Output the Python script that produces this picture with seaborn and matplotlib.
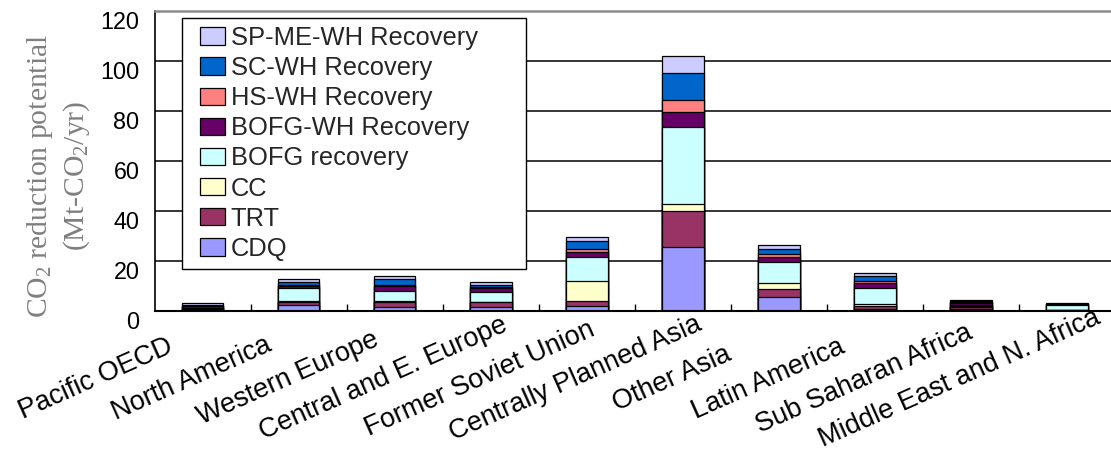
import numpy as np
import matplotlib
matplotlib.use("Agg")
import matplotlib.pyplot as plt
import matplotlib.transforms as mtransforms
from matplotlib.patches import Rectangle
from matplotlib.container import BarContainer
from matplotlib.legend_handler import HandlerPatch, update_from_first_child
import seaborn as sns

# regions on the x axis
regions = ["Pacific OECD", "North America", "Western Europe", "Central and E. Europe",
           "Former Soviet Union", "Centrally Planned Asia", "Other Asia",
           "Latin America", "Sub Saharan Africa", "Middle East and N. Africa"]

# technologies, bottom of the stack first
techs = ["CDQ", "TRT", "CC", "BOFG recovery", "BOFG-WH Recovery",
         "HS-WH Recovery", "SC-WH Recovery", "SP-ME-WH Recovery"]

# Mt-CO2/yr
cdq     = [0.5, 2.3, 1.5, 1.5, 2.0, 25.4, 5.3, 0.8, 0.6, 0.2]
trt     = [0.3, 1.3, 2.0, 1.8, 1.9, 14.6, 3.5, 1.0, 1.0, 0.1]
cc      = [0.1, 0.3, 0.3, 0.3, 7.9, 2.7, 2.3, 0.7, 0.2, 0.1]
bofg    = [0.3, 5.2, 4.2, 3.9, 9.8, 30.9, 8.5, 6.5, 0.4, 1.8]
bofg_wh = [0.5, 0.9, 1.9, 1.6, 2.0, 6.0, 2.0, 2.1, 0.8, 0.3]
hs_wh   = [0.2, 0.4, 0.3, 0.3, 1.1, 4.7, 1.2, 0.9, 0.3, 0.1]
sc_wh   = [0.5, 1.2, 2.5, 1.0, 3.2, 10.7, 1.8, 1.7, 0.6, 0.2]
spme_wh = [0.6, 1.1, 1.0, 0.9, 1.7, 6.9, 1.7, 1.2, 0.5, 0.3]

colors = ["#9999FF", "#993366", "#FFFFCC", "#CCFFFF", "#660066",
          "#FF8080", "#0066CC", "#CCCCFF"]

sns.set_theme(style="white")
plt.rcParams["font.family"] = ["Liberation Sans", "DejaVu Sans"]
plt.rcParams["mathtext.fontset"] = "custom"
plt.rcParams["mathtext.rm"] = "Liberation Serif"

fig = plt.figure(figsize=(11.11, 4.55), dpi=100)
ax = fig.add_axes([154.8 / 1111, 1 - 310.7 / 455, 960.2 / 1111, 300 / 455])

layers = np.array([cdq, trt, cc, bofg, bofg_wh, hs_wh, sc_wh, spme_wh])
cum = np.cumsum(layers, axis=0)

# draw cumulative bars from the top segment down so each one covers the rest
for i in reversed(range(len(techs))):
    sns.barplot(x=regions, y=cum[i], color=colors[i], saturation=1, width=0.43,
                edgecolor="black", linewidth=0.9, errorbar=None,
                label=techs[i], ax=ax)

ax.set_xlim(-0.5, 9.5)
ax.set_ylim(0, 120)
ax.set_yticks(range(0, 121, 20))
ax.yaxis.grid(True, color="black", linewidth=1.1)
ax.set_axisbelow(True)
ax.set_xlabel("")
ax.set_ylabel("")

for side in ["top", "left", "bottom"]:
    ax.spines[side].set_visible(True)
ax.spines["right"].set_visible(False)
ax.spines["top"].set_color("#8c8c8c")
ax.spines["top"].set_linewidth(1.8)
ax.spines["left"].set_color("black")
ax.spines["left"].set_linewidth(1.2)
ax.spines["bottom"].set_color("black")
ax.spines["bottom"].set_linewidth(1.5)

# ticks
ax.set_xticks(range(len(regions)))
ax.set_xticklabels(regions, rotation=24, rotation_mode="anchor",
                   ha="center", va="center", fontsize=19.5, color="black")
ax.tick_params(axis="x", which="major", length=0, pad=0)
ax.set_xticks(np.arange(0.5, len(regions) - 1, 1.0), minor=True)
ax.tick_params(axis="x", which="minor", direction="in", length=5, width=1,
               color="black", bottom=True)
ax.tick_params(axis="y", length=0, pad=11, labelsize=16.8, labelcolor="black")

xoff = mtransforms.ScaledTranslation(-107 / 100, -68 / 100, fig.dpi_scale_trans)
for lbl in ax.get_xticklabels():
    lbl.set_transform(lbl.get_transform() + xoff)
yoff = mtransforms.ScaledTranslation(0, -9.5 / 100, fig.dpi_scale_trans)
for lbl in ax.get_yticklabels():
    lbl.set_transform(lbl.get_transform() + yoff)

# y label, two lines in a grey serif face
fig.text(58.5 / 1111, 1 - 176 / 455,
         "CO$\\mathregular{_2}$ reduction potential\n(Mt-CO$\\mathregular{_2}$/yr)",
         rotation=90, ha="center", va="center", ma="center", fontsize=21.3,
         family="Liberation Serif", color="#7f7f7f", linespacing=1.24)


# legend swatch sits at the right end of the handle box
def swatch(legend, orig_handle, xdescent, ydescent, width, height, fontsize):
    w, h = 18, 12.5
    return Rectangle((width - w - xdescent, (height - h) / 2 - ydescent), w, h)


handles, labels = ax.get_legend_handles_labels()
leg = ax.legend(handles, labels, loc="upper left",
                bbox_to_anchor=(0.0283, 0.1447, 0.3583, 0.83), mode="expand",
                borderaxespad=0, fontsize=18.4, frameon=True, fancybox=False,
                framealpha=1, edgecolor="black", borderpad=0.3,
                labelspacing=0.24, handlelength=1.40, handleheight=0.7,
                handletextpad=0.2,
                handler_map={BarContainer: HandlerPatch(patch_func=swatch,
                                                        update_func=update_from_first_child)})
leg.get_frame().set_linewidth(1.0)

fig.savefig("out.png", dpi=100)
